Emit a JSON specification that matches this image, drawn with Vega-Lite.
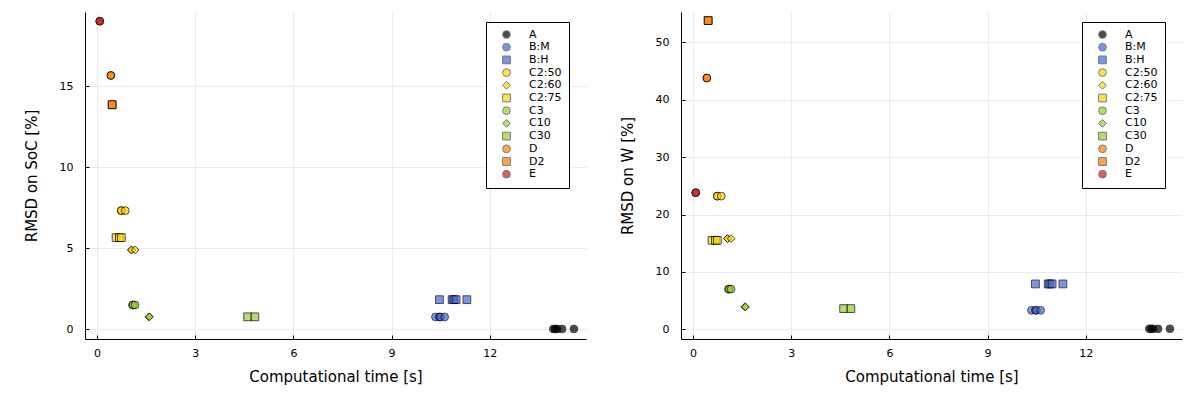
{
  "$schema": "https://vega.github.io/schema/vega-lite/v6.json",
  "padding": {"left": 24, "top": 12, "right": 8, "bottom": 10},
  "spacing": 34,
  "config": {
    "font": "DejaVu Sans",
    "view": {"stroke": null},
    "axis": {
      "domainColor": "black",
      "domainWidth": 1,
      "tickColor": "black",
      "tickSize": -4,
      "labelFontSize": 11,
      "labelColor": "black",
      "titleFontSize": 15,
      "titleFontWeight": "normal",
      "titleColor": "black",
      "gridColor": "#e6e6e6",
      "gridWidth": 0.8
    },
    "axisX": {"labelPadding": 12, "titlePadding": 11},
    "axisY": {"labelPadding": 16, "titlePadding": 20},
    "legend": {
      "orient": "none",
      "legendX": 401,
      "legendY": 10,
      "fillColor": "white",
      "strokeColor": "black",
      "padding": 7,
      "labelFontSize": 11,
      "labelColor": "black",
      "labelOffset": 17,
      "symbolOffset": 8,
      "rowPadding": -0.3,
      "symbolStrokeColor": "#444444",
      "symbolStrokeWidth": 1,
      "title": null
    }
  },
  "data": {
    "values": [
      {"m": "A", "t": 13.94, "soc": 0.02, "w": 0.08},
      {"m": "A", "t": 14.0, "soc": 0.02, "w": 0.08},
      {"m": "A", "t": 14.06, "soc": 0.02, "w": 0.08},
      {"m": "A", "t": 14.21, "soc": 0.02, "w": 0.08},
      {"m": "A", "t": 14.57, "soc": 0.02, "w": 0.08},
      {"m": "B:M", "t": 10.34, "soc": 0.76, "w": 3.3},
      {"m": "B:M", "t": 10.46, "soc": 0.76, "w": 3.3},
      {"m": "B:M", "t": 10.49, "soc": 0.76, "w": 3.3},
      {"m": "B:M", "t": 10.62, "soc": 0.76, "w": 3.3},
      {"m": "B:H", "t": 10.46, "soc": 1.83, "w": 7.9},
      {"m": "B:H", "t": 10.85, "soc": 1.83, "w": 7.9},
      {"m": "B:H", "t": 10.9, "soc": 1.83, "w": 7.9},
      {"m": "B:H", "t": 10.97, "soc": 1.83, "w": 7.9},
      {"m": "B:H", "t": 11.3, "soc": 1.83, "w": 7.9},
      {"m": "C2:50", "t": 0.74, "soc": 7.33, "w": 23.2},
      {"m": "C2:50", "t": 0.74, "soc": 7.33, "w": 23.2},
      {"m": "C2:50", "t": 0.86, "soc": 7.33, "w": 23.2},
      {"m": "C2:60", "t": 1.05, "soc": 4.9, "w": 15.8},
      {"m": "C2:60", "t": 1.05, "soc": 4.9, "w": 15.8},
      {"m": "C2:60", "t": 1.16, "soc": 4.9, "w": 15.8},
      {"m": "C2:75", "t": 0.58, "soc": 5.66, "w": 15.5},
      {"m": "C2:75", "t": 0.68, "soc": 5.66, "w": 15.5},
      {"m": "C2:75", "t": 0.74, "soc": 5.66, "w": 15.5},
      {"m": "C3", "t": 1.08, "soc": 1.5, "w": 7.0},
      {"m": "C3", "t": 1.1, "soc": 1.5, "w": 7.0},
      {"m": "C3", "t": 1.16, "soc": 1.5, "w": 7.0},
      {"m": "C10", "t": 1.58, "soc": 0.77, "w": 3.9},
      {"m": "C10", "t": 1.6, "soc": 0.77, "w": 3.9},
      {"m": "C30", "t": 4.6, "soc": 0.77, "w": 3.6},
      {"m": "C30", "t": 4.82, "soc": 0.77, "w": 3.6},
      {"m": "D", "t": 0.42, "soc": 15.68, "w": 43.8},
      {"m": "D", "t": 0.42, "soc": 15.68, "w": 43.8},
      {"m": "D2", "t": 0.46, "soc": 13.87, "w": 53.8},
      {"m": "D2", "t": 0.46, "soc": 13.87, "w": 53.8},
      {"m": "E", "t": 0.08, "soc": 19.03, "w": 23.8},
      {"m": "E", "t": 0.08, "soc": 19.03, "w": 23.8}
    ]
  },
  "resolve": {"legend": {"color": "independent", "shape": "independent", "size": "independent"}},
  "hconcat": [
    {
      "width": 501,
      "height": 327,
      "mark": {"type": "point", "filled": true, "opacity": 0.7, "stroke": "black", "strokeWidth": 1},
      "encoding": {
        "x": {
          "field": "t", "type": "quantitative", "title": "Computational time [s]",
          "scale": {"domain": [-0.37, 14.94], "nice": false, "zero": false},
          "axis": {"values": [0, 3, 6, 9, 12]}
        },
        "y": {
          "field": "soc", "type": "quantitative", "title": "RMSD on SoC [%]",
          "scale": {"domain": [-0.6, 19.6], "nice": false, "zero": false},
          "axis": {"values": [0, 5, 10, 15]}
        },
        "color": {
          "field": "m", "type": "nominal",
          "scale": {
            "domain": ["A", "B:M", "B:H", "C2:50", "C2:60", "C2:75", "C3", "C10", "C30", "D", "D2", "E"],
            "range": ["#000000", "#4169e1", "#4169e1", "#ffd700", "#ffd700", "#ffd700", "#9acd32", "#9acd32", "#9acd32", "#ff7f00", "#ff7f00", "#cc1a1a"]
          }
        },
        "shape": {
          "field": "m", "type": "nominal",
          "scale": {
            "domain": ["A", "B:M", "B:H", "C2:50", "C2:60", "C2:75", "C3", "C10", "C30", "D", "D2", "E"],
            "range": ["circle", "circle", "square", "circle", "diamond", "square", "circle", "diamond", "square", "circle", "square", "circle"]
          }
        },
        "size": {
          "field": "m", "type": "nominal",
          "scale": {
            "domain": ["A", "B:M", "B:H", "C2:50", "C2:60", "C2:75", "C3", "C10", "C30", "D", "D2", "E"],
            "range": [60, 60, 78, 60, 115, 78, 60, 115, 78, 60, 78, 60]
          }
        }
      }
    },
    {
      "width": 501,
      "height": 327,
      "mark": {"type": "point", "filled": true, "opacity": 0.7, "stroke": "black", "strokeWidth": 1},
      "encoding": {
        "x": {
          "field": "t", "type": "quantitative", "title": "Computational time [s]",
          "scale": {"domain": [-0.37, 14.94], "nice": false, "zero": false},
          "axis": {"values": [0, 3, 6, 9, 12]}
        },
        "y": {
          "field": "w", "type": "quantitative", "title": "RMSD on W [%]",
          "scale": {"domain": [-1.7, 55.3], "nice": false, "zero": false},
          "axis": {"values": [0, 10, 20, 30, 40, 50]}
        },
        "color": {
          "field": "m", "type": "nominal",
          "scale": {
            "domain": ["A", "B:M", "B:H", "C2:50", "C2:60", "C2:75", "C3", "C10", "C30", "D", "D2", "E"],
            "range": ["#000000", "#4169e1", "#4169e1", "#ffd700", "#ffd700", "#ffd700", "#9acd32", "#9acd32", "#9acd32", "#ff7f00", "#ff7f00", "#cc1a1a"]
          }
        },
        "shape": {
          "field": "m", "type": "nominal",
          "scale": {
            "domain": ["A", "B:M", "B:H", "C2:50", "C2:60", "C2:75", "C3", "C10", "C30", "D", "D2", "E"],
            "range": ["circle", "circle", "square", "circle", "diamond", "square", "circle", "diamond", "square", "circle", "square", "circle"]
          }
        },
        "size": {
          "field": "m", "type": "nominal",
          "scale": {
            "domain": ["A", "B:M", "B:H", "C2:50", "C2:60", "C2:75", "C3", "C10", "C30", "D", "D2", "E"],
            "range": [60, 60, 78, 60, 115, 78, 60, 115, 78, 60, 78, 60]
          }
        }
      }
    }
  ]
}
